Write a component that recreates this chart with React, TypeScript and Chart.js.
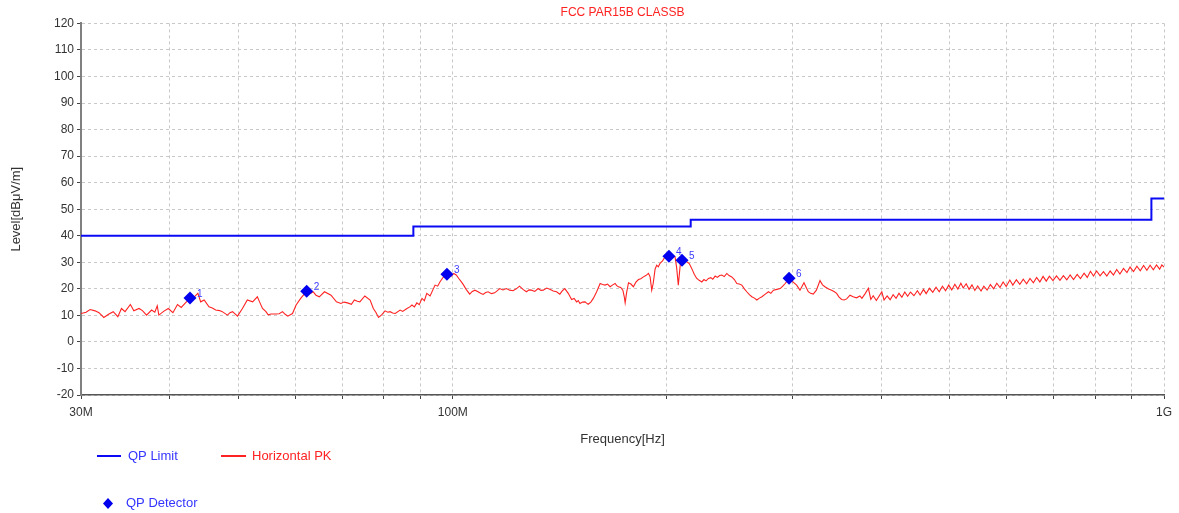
import React, { useEffect, useRef } from "react";
import { Chart, registerables } from "chart.js";

Chart.register(...registerables);

const chartTitle = "FCC PAR15B CLASSB";
const yTitle = "Level[dBμV/m]";
const xTitle = "Frequency[Hz]";

const xTickValues = [30, 40, 50, 60, 70, 80, 90, 100, 200, 300, 400, 500, 600, 700, 800, 900, 1000];
const xTickText = ["30M", "", "", "", "", "", "", "100M", "", "", "", "", "", "", "", "", "1G"];

const limitFreq = [30, 88, 88, 216, 216, 960, 960, 1000];
const limitLevel = [40, 40, 43.5, 43.5, 46, 46, 54, 54];

const markerFreq = [42.7, 62.3, 98.1, 201.3, 210.0, 297.0];
const markerLevel = [16.5, 19.1, 25.5, 32.3, 30.8, 24.0];
const markerLabels = ["1", "2", "3", "4", "5", "6"];

const pkFreq = [
  30.0, 30.5, 30.9, 31.4, 31.8, 32.3, 32.8, 33.3, 33.8, 34.2, 34.6, 35.2, 35.6, 36.2, 36.6, 37.1, 37.7, 38.1, 38.4, 38.6,
  39.2, 39.8, 40.4, 41.0, 41.5, 42.2, 42.7, 43.3, 43.8, 44.2, 44.7, 45.4, 45.9, 46.4, 47.0, 47.4, 48.2, 48.6, 49.0, 49.8,
  50.6, 51.4, 52.3, 53.1, 53.5, 54.0, 54.6, 55.0, 55.5, 56.4, 57.0, 57.6, 58.1, 58.6, 59.5, 60.2, 61.1, 62.3, 63.1, 63.6,
  64.2, 64.9, 66.0, 67.4, 68.6, 69.6, 70.3, 71.1, 72.0, 72.7, 73.4, 74.0, 75.2, 76.5, 77.3, 78.0, 78.6, 79.4, 80.3, 81.0,
  81.6, 82.3, 83.0, 84.3, 85.0, 86.2, 87.0, 87.6, 88.3, 89.0, 89.7, 90.5, 91.2, 91.9, 92.9, 94.4, 95.2, 95.9, 96.7, 97.5,
  98.1, 99.5, 100.3, 101.1, 102.0, 102.8, 103.5, 104.4, 105.6, 106.5, 107.4, 108.5, 109.4, 110.3, 111.2, 112.1, 113.3, 114.5, 115.5, 116.4,
  117.6, 118.9, 120.2, 121.5, 122.8, 124.1, 125.5, 126.9, 128.0, 129.0, 130.4, 131.8, 133.0, 134.0, 135.5, 136.9, 138.4, 139.9, 141.4, 142.5,
  143.7, 145.3, 146.9, 148.1, 149.3, 150.1, 150.9, 152.2, 153.4, 154.2, 155.0, 156.3, 157.6, 159.3, 161.1, 162.4, 163.7, 165.0, 166.4, 167.8,
  169.1, 170.0, 170.9, 172.2, 173.4, 174.2, 174.7, 175.5, 176.6, 178.0, 179.4, 180.9, 182.4, 183.8, 185.3, 186.8, 188.4, 189.4, 190.4, 191.3,
  192.5, 193.5, 194.5, 195.6, 197.2, 198.8, 200.2, 201.3, 203.0, 205.3, 206.4, 207.5, 208.3, 209.1, 210.0, 211.5, 213.2, 215.0, 216.7, 218.5,
  220.3, 222.0, 223.9, 225.5, 227.0, 228.8, 230.5, 232.0, 233.8, 235.5, 237.2, 238.9, 240.8, 242.8, 244.6, 246.7, 248.8, 250.8, 252.8, 254.9,
  257.0, 259.0, 261.2, 263.3, 265.5, 267.6, 269.8, 272.0, 275.0, 277.9, 280.0, 282.4, 285.5, 288.6, 291.0, 293.3, 296.0, 298.1, 301.0, 304.4,
  307.7, 311.7, 314.0, 316.1, 318.5, 321.2, 324.5, 328.3, 331.0, 333.6, 337.0, 340.9, 343.5, 346.5, 349.0, 352.1, 355.0, 357.9, 361.8, 365.5,
  369.5, 373.6, 376, 380, 384, 387, 390, 394, 398, 401, 404, 408, 412, 416, 420, 424, 428, 432, 436, 440,
  445, 450, 454, 459, 463, 468, 473, 478, 483, 488, 493, 498, 503, 508, 513, 518, 522, 527, 532, 537,
  542, 547, 553, 558, 564, 570, 576, 582, 588, 594, 600, 607, 613, 620, 627, 634, 641, 648, 655, 662,
  669, 676, 683, 690, 698, 706, 714, 722, 730, 738, 746, 755, 763, 772, 780, 788, 796, 804, 813, 822,
  831, 840, 849, 858, 867, 877, 887, 896, 906, 916, 926, 936, 946, 956, 966, 976, 986, 993, 1000,
];

const pkLevel = [
  10.7, 11.2, 12.2, 11.7, 11.0, 9.2, 10.4, 11.4, 9.5, 12.6, 11.4, 14.1, 11.7, 12.6, 11.8, 10.1, 12.0, 11.2, 13.6, 10.1,
  11.5, 12.6, 11.0, 14.1, 13.0, 15.1, 16.2, 17.0, 18.3, 15.1, 15.8, 13.2, 12.8, 12.0, 11.8, 11.4, 10.1, 11.0, 11.4, 9.7,
  12.6, 15.8, 15.1, 17.0, 15.0, 12.6, 11.4, 10.2, 10.5, 10.5, 10.6, 11.4, 10.4, 9.7, 10.7, 13.9, 16.4, 19.1, 18.3, 18.9,
  17.6, 17.0, 18.9, 17.6, 15.1, 14.5, 15.0, 14.7, 14.2, 15.8, 15.3, 15.1, 17.3, 15.8, 12.6, 11.0, 9.2, 10.2, 11.7, 11.2,
  11.4, 10.9, 10.7, 12.0, 11.5, 12.6, 13.2, 13.9, 13.2, 14.7, 14.0, 16.4, 15.5, 18.3, 17.3, 21.4, 21.0, 22.6, 24.0, 25.2,
  25.5, 24.8, 25.8, 25.2, 23.8, 22.6, 21.5, 19.8, 18.0, 19.0, 19.5, 18.9, 18.3, 17.9, 18.6, 18.9, 18.2, 18.5, 19.3, 20.1,
  19.6, 20.1, 19.5, 19.3, 20.0, 21.0, 19.8, 18.9, 19.6, 19.5, 19.0, 20.1, 19.4, 19.5, 20.3, 19.8, 19.2, 18.9, 18.0, 19.2,
  20.1, 18.3, 16.0, 16.4, 15.1, 15.6, 14.5, 15.0, 15.1, 14.6, 14.2, 15.0, 16.4, 18.9, 22.0, 21.6, 21.4, 21.8, 20.8, 21.5,
  22.0, 21.2, 20.8, 20.5, 19.5, 17.0, 14.7, 18.5, 22.3, 21.8, 20.8, 22.5, 23.5, 23.8, 24.5, 25.0, 25.8, 24.5, 19.5, 22.0,
  27.5, 28.9, 28.3, 29.6, 30.5, 32.1, 32.6, 32.3, 32.5, 32.1, 28.0, 21.4, 26.0, 30.8, 31.2, 31.0, 30.2, 29.5, 27.7, 25.5,
  23.9, 23.2, 22.6, 23.5, 23.0, 23.9, 24.2, 23.6, 24.8, 24.3, 25.0, 25.2, 24.6, 25.8, 25.0, 24.5, 23.5, 22.0, 21.8, 21.4,
  20.0, 18.9, 17.8, 17.0, 16.5, 15.8, 16.5, 17.0, 18.0, 18.9, 18.3, 19.5, 19.8, 20.1, 21.0, 22.0, 23.4, 24.0, 22.5, 21.4,
  19.5, 22.3, 20.5, 18.9, 18.3, 18.0, 19.5, 23.1, 21.5, 20.8, 20.0, 19.5, 19.0, 18.3, 17.0, 16.0, 15.8, 16.2, 17.6, 17.0,
  16.6, 17.3, 16.4, 18.2, 20.2, 16.0, 17.4, 15.6, 17.5, 18.9, 15.8, 17.3, 15.9, 17.8, 16.4, 18.3, 16.8, 18.8, 17.2, 18.8,
  17.4, 19.3, 17.7, 19.8, 18.2, 20.2, 18.7, 20.6, 18.9, 21.0, 19.3, 21.4, 19.6, 21.7, 19.9, 22.1, 20.3, 21.9, 19.8, 21.5,
  19.4, 21.1, 19.2, 21.0, 19.5, 21.6, 20.0, 22.1, 20.5, 22.6, 20.9, 23.3, 21.4, 23.4, 21.7, 23.6, 21.9, 23.9, 22.3, 24.3,
  22.6, 24.7, 22.9, 24.8, 23.1, 24.9, 23.2, 25.0, 23.4, 25.2, 23.5, 25.4, 23.9, 25.9, 24.3, 26.6, 24.8, 26.7, 24.9, 26.5,
  24.8, 26.7, 25.2, 27.3, 25.6, 27.7, 26.1, 28.2, 26.5, 28.5, 26.8, 28.8, 27.0, 28.9, 27.2, 29.0, 27.4, 29.0, 28.2,
];

const FONT = "'Liberation Sans', Arial, sans-serif";
const BLUE = "#0a0af5";
const RED = "#ff2222";

const overlayPlugin = {
  id: "overlay",
  afterDatasetsDraw(chart: any) {
    const ctx = chart.ctx;
    const meta = chart.getDatasetMeta(0);
    ctx.save();
    ctx.font = `10px ${FONT}`;
    ctx.fillStyle = "#3c3cff";
    ctx.textAlign = "left";
    ctx.textBaseline = "middle";
    meta.data.forEach((el: any, i: number) => {
      ctx.fillText(markerLabels[i], el.x + 7, el.y - 4);
    });
    ctx.restore();
  },
  afterDraw(chart: any) {
    const ctx = chart.ctx;
    ctx.save();
    ctx.font = `13px ${FONT}`;
    ctx.textBaseline = "middle";
    ctx.textAlign = "left";
    ctx.lineWidth = 2;
    ctx.strokeStyle = BLUE;
    ctx.beginPath();
    ctx.moveTo(97, 456);
    ctx.lineTo(121, 456);
    ctx.stroke();
    ctx.fillStyle = "#3434ff";
    ctx.fillText("QP Limit", 128, 456);
    ctx.strokeStyle = RED;
    ctx.beginPath();
    ctx.moveTo(221, 456);
    ctx.lineTo(246, 456);
    ctx.stroke();
    ctx.fillStyle = RED;
    ctx.fillText("Horizontal PK", 252, 456);
    ctx.fillStyle = "#0000ee";
    ctx.beginPath();
    ctx.moveTo(108, 498);
    ctx.lineTo(113, 503.5);
    ctx.lineTo(108, 509);
    ctx.lineTo(103, 503.5);
    ctx.closePath();
    ctx.fill();
    ctx.fillStyle = "#3434ff";
    ctx.fillText("QP Detector", 126, 503);
    ctx.restore();
  },
};

export default function App() {
  const ref = useRef<HTMLCanvasElement | null>(null);
  useEffect(() => {
    if (!ref.current) return;
    Chart.defaults.font.family = FONT;
    const chart = new Chart(ref.current, {
      type: "line",
      data: {
        datasets: [
          {
            label: "QP Detector",
            data: markerFreq.map((f, i) => ({ x: f, y: markerLevel[i] })),
            showLine: false,
            pointStyle: "rectRot",
            pointRadius: 6.5,
            pointBackgroundColor: "#0000ee",
            pointBorderWidth: 0,
            borderColor: "#0000ee",
            backgroundColor: "#0000ee",
          },
          {
            label: "QP Limit",
            data: limitFreq.map((f, i) => ({ x: f, y: limitLevel[i] })),
            borderColor: BLUE,
            borderWidth: 2,
            pointRadius: 0,
            tension: 0,
          },
          {
            label: "Horizontal PK",
            data: pkFreq.map((f, i) => ({ x: f, y: pkLevel[i] })),
            borderColor: RED,
            borderWidth: 1.1,
            pointRadius: 0,
            tension: 0,
          },
        ],
      },
      options: {
        animation: false,
        responsive: false,
        devicePixelRatio: 1,
        layout: { padding: { top: 0, right: 15, bottom: 0, left: 0 } },
        plugins: {
          legend: { display: false },
          tooltip: { enabled: false },
          title: {
            display: true,
            text: chartTitle,
            color: RED,
            fullSize: false,
            font: { size: 12, weight: "normal", family: FONT },
            padding: { top: 5, bottom: 4 },
          },
        },
        scales: {
          x: {
            type: "logarithmic",
            min: 30,
            max: 1000,
            afterFit: (s: any) => {
              s.height = 118;
            },
            afterBuildTicks: (s: any) => {
              s.ticks = xTickValues.map((v) => ({ value: v }));
            },
            ticks: {
              autoSkip: false,
              maxRotation: 0,
              minRotation: 0,
              padding: 6,
              color: "#333333",
              font: { size: 12, family: FONT },
              callback: (v: any) => {
                const idx = xTickValues.indexOf(Number(v));
                return idx >= 0 ? xTickText[idx] : "";
              },
            },
            grid: {
              color: "#c8c8c8",
              lineWidth: 1,
              tickLength: 4,
              tickColor: "#444444",
            },
            border: { display: true, color: "#555555", width: 1.5, dash: [3, 3] },
            title: {
              display: true,
              text: xTitle,
              color: "#333333",
              font: { size: 13, family: FONT },
              padding: { top: 0, bottom: 66 },
            },
          },
          y: {
            min: -20,
            max: 120,
            afterFit: (s: any) => {
              s.width = 81;
            },
            ticks: {
              stepSize: 10,
              padding: 3,
              color: "#333333",
              font: { size: 12, family: FONT },
            },
            grid: {
              color: "#c8c8c8",
              lineWidth: 1,
              tickLength: 4,
              tickColor: "#444444",
            },
            border: { display: true, color: "#808080", width: 2, dash: [3, 3] },
            title: {
              display: true,
              text: yTitle,
              color: "#333333",
              font: { size: 13, family: FONT },
              padding: { top: 9, bottom: 0 },
            },
          },
        },
      },
      plugins: [overlayPlugin],
    } as any);
    return () => chart.destroy();
  }, []);
  return (
    <div style={{ position: "fixed", left: 0, top: 0, width: 1179, height: 513, background: "#ffffff" }}>
      <canvas ref={ref} width={1179} height={513} style={{ display: "block" }} />
    </div>
  );
}
